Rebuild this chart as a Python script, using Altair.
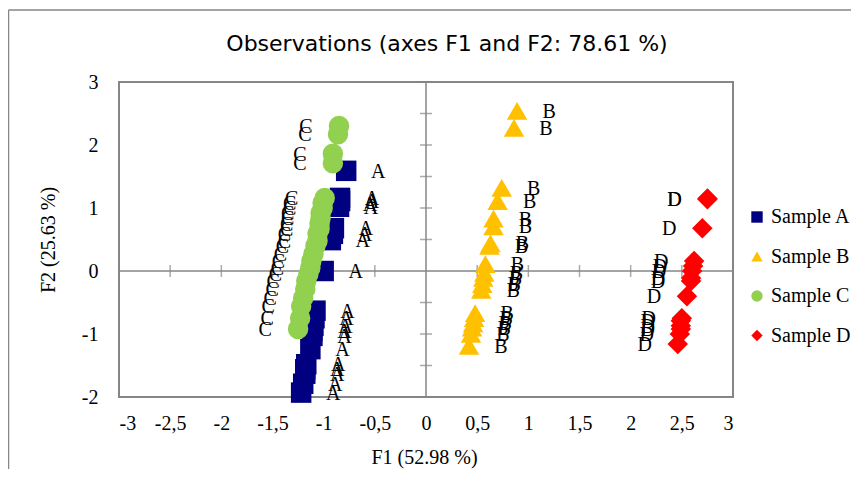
import altair as alt
import pandas as pd

# ---- data ----
samples = ["Sample A", "Sample B", "Sample C", "Sample D"]
short = ["A", "B", "C", "D"]
colors = ["#000080", "#FFC000", "#92D050", "#FF0000"]
shapes = ["square", "triangle-up", "circle", "diamond"]

A_x = [-0.78, -0.84, -0.84, -0.86, -0.85, -0.90, -0.91, -0.93, -1.00, -1.08,
       -1.09, -1.10, -1.11, -1.11, -1.13, -1.17, -1.18, -1.18, -1.20, -1.22]
A_y = [1.59, 1.16, 1.11, 1.06, 1.02, 0.68, 0.59, 0.49, 0.00, -0.63,
       -0.75, -0.87, -0.95, -1.03, -1.24, -1.48, -1.56, -1.63, -1.79, -1.93]

B_x = [0.89, 0.86, 0.74, 0.70, 0.66, 0.66, 0.63, 0.62, 0.58, 0.57,
       0.56, 0.55, 0.54, 0.48, 0.47, 0.46, 0.45, 0.44, 0.42]
B_y = [2.54, 2.27, 1.32, 1.11, 0.83, 0.71, 0.44, 0.40, 0.11, -0.03,
       -0.11, -0.21, -0.30, -0.67, -0.75, -0.83, -0.90, -1.00, -1.19]

C_x = [-0.85, -0.86, -0.91, -0.91, -0.99, -1.01, -1.01, -1.03, -1.03, -1.04,
       -1.04, -1.06, -1.06, -1.08, -1.10, -1.12, -1.13, -1.15, -1.17, -1.18,
       -1.20, -1.22, -1.23, -1.25]
C_y = [2.30, 2.17, 1.86, 1.71, 1.16, 1.08, 1.00, 0.92, 0.84, 0.75,
       0.67, 0.59, 0.48, 0.40, 0.27, 0.16, 0.05, -0.05, -0.16, -0.29,
       -0.43, -0.56, -0.75, -0.92]

D_x = [2.75, 2.75, 2.70, 2.62, 2.61, 2.60, 2.59, 2.59, 2.55, 2.50,
       2.49, 2.49, 2.49, 2.48, 2.46]
D_y = [1.14, 1.15, 0.68, 0.16, 0.08, 0.00, -0.11, -0.16, -0.40, -0.75,
       -0.79, -0.87, -0.92, -1.00, -1.16]

tick_x = [-3, -2.5, -2, -1.5, -1, -0.5, 0.5, 1, 1.5, 2, 2.5, 3]
tick_y = [-2, -1.5, -1, -0.5, 0.5, 1, 1.5, 2, 2.5, 3]
x_labels = [-3, -2.5, -2, -1.5, -1, -0.5, 0, 0.5, 1, 1.5, 2, 2.5, 3]
y_labels = [-2, -1.5, -1, -0.5, 0, 0.5, 1, 1.5, 2, 2.5, 3]

rows = []
for s, lab, xs, ys in zip(samples, short, [A_x, B_x, C_x, D_x], [A_y, B_y, C_y, D_y]):
    for x, y in zip(xs, ys):
        rows.append({"F1": x, "F2": y, "Sample": s, "label": lab})
df = pd.DataFrame(rows)

SERIF = "Liberation Serif"
GRAY = "#868686"

xscale = alt.Scale(domain=[-3, 3], nice=False, zero=False)
yscale = alt.Scale(domain=[-2, 3], nice=False, zero=False)
lab_expr = "replace(toString(datum.value), '.', ',')"

xaxis = alt.Axis(values=x_labels, labelExpr=lab_expr, title="F1 (52.98 %)",
                 titleX=305, titleY=60, titleBaseline="middle", titleAlign="center",
                 labelPadding=16)
yaxis = alt.Axis(values=y_labels, labelExpr=lab_expr, title="F2 (25.63 %)",
                 titleX=-71, titleY=157.5, titleAngle=-90, titleBaseline="middle",
                 titleAlign="center", labelPadding=21)

base = alt.Chart(df)

points = base.mark_point(filled=True, size=420, opacity=1).encode(
    x=alt.X("F1:Q", scale=xscale, axis=xaxis),
    y=alt.Y("F2:Q", scale=yscale, axis=yaxis),
    color=alt.Color("Sample:N", scale=alt.Scale(domain=samples, range=colors),
                    legend=alt.Legend(title=None, orient="none", legendX=628, legendY=125,
                                      symbolSize=130, labelFont=SERIF, labelFontSize=20,
                                      labelColor="black", rowPadding=19.5, padding=0,
                                      labelOffset=4)),
    shape=alt.Shape("Sample:N", scale=alt.Scale(domain=samples, range=shapes)),
)

labels_right = base.transform_filter(
    "datum.label == 'A' || datum.label == 'B'"
).mark_text(font=SERIF, fontSize=20, color="black", dx=32, dy=1, baseline="middle",
            align="center").encode(x="F1:Q", y="F2:Q", text="label:N")

labels_left = base.transform_filter(
    "datum.label == 'C' || datum.label == 'D'"
).mark_text(font=SERIF, fontSize=20, color="black", dx=-33, dy=1, baseline="middle",
            align="center").encode(x="F1:Q", y="F2:Q", text="label:N")

zero_h = alt.Chart(pd.DataFrame({"v": [0]})).mark_rule(color=GRAY, strokeWidth=1.5).encode(
    y=alt.Y("v:Q", scale=yscale))
zero_v = alt.Chart(pd.DataFrame({"v": [0]})).mark_rule(color=GRAY, strokeWidth=1.5).encode(
    x=alt.X("v:Q", scale=xscale))

xt = alt.Chart(pd.DataFrame({"t": tick_x})).mark_tick(
    color=GRAY, size=12, thickness=1.5, orient="vertical").encode(
    x=alt.X("t:Q", scale=xscale), y=alt.YDatum(0))
yt = alt.Chart(pd.DataFrame({"t": tick_y})).mark_tick(
    color=GRAY, size=12, thickness=1.5, orient="horizontal").encode(
    y=alt.Y("t:Q", scale=yscale), x=alt.XDatum(0))

frame_top = alt.Chart(pd.DataFrame({"v": [0]})).mark_rule(
    color=GRAY, strokeWidth=1.5, clip=False).encode(
    x=alt.value(-110.5), x2=alt.value(732), y=alt.value(-72))
frame_left = alt.Chart(pd.DataFrame({"v": [0]})).mark_rule(
    color=GRAY, strokeWidth=1.5, clip=False).encode(
    x=alt.value(-110.5), y=alt.value(-72), y2=alt.value(387))

chart = alt.layer(
    zero_h, zero_v, xt, yt, points, labels_right, labels_left, frame_top, frame_left
).properties(
    width=614, height=315,
    title=alt.Title("Observations (axes F1 and F2: 78.61 %)", font="DejaVu Sans",
                    fontSize=22, fontWeight="normal", color="black", anchor="middle",
                    frame="group", dx=21, offset=-69, baseline="bottom"),
    autosize=alt.AutoSizeParams(type="none"),
    padding={"left": 111, "top": 74, "right": 118, "bottom": 72},
    background="white",
).configure_view(
    stroke=GRAY, strokeWidth=2
).configure_axis(
    grid=False, domain=False, ticks=False, tickSize=0,
    labelFont=SERIF, labelFontSize=20, labelColor="black",
    titleFont=SERIF, titleFontSize=20, titleFontWeight="normal", titleColor="black",
)

chart.save("out.html", embed_options={"renderer": "svg", "actions": False})
